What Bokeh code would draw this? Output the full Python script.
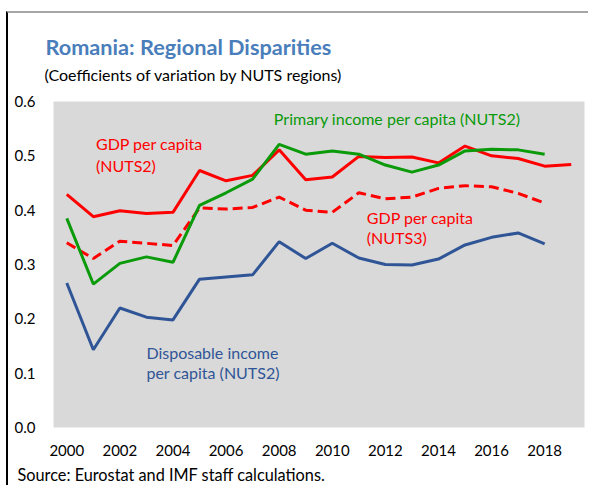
from bokeh.plotting import figure
from bokeh.models import Title, Label, FixedTicker, Range1d
from bokeh.embed import file_html
from bokeh.resources import INLINE

# ---- data ----
years = list(range(2000, 2020))
years_short = list(range(2000, 2019))
gdp_nuts2 = [0.429, 0.388, 0.399, 0.394, 0.396, 0.473, 0.454, 0.464, 0.511, 0.456,
             0.461, 0.499, 0.497, 0.498, 0.487, 0.518, 0.500, 0.495, 0.481, 0.484]
gdp_nuts3 = [0.340, 0.311, 0.343, 0.339, 0.335, 0.404, 0.402, 0.405, 0.424, 0.400,
             0.396, 0.432, 0.421, 0.424, 0.440, 0.445, 0.443, 0.431, 0.413]
primary_income = [0.385, 0.264, 0.302, 0.314, 0.304, 0.409, 0.432, 0.457, 0.521, 0.503,
                  0.509, 0.503, 0.483, 0.470, 0.483, 0.509, 0.512, 0.511, 0.503]
disposable_income = [0.266, 0.143, 0.220, 0.203, 0.198, 0.273, 0.277, 0.281, 0.342, 0.311,
                     0.339, 0.312, 0.300, 0.299, 0.310, 0.336, 0.350, 0.358, 0.338]
x_ticks = list(range(2000, 2019, 2))
y_ticks = [0.0, 0.1, 0.2, 0.3, 0.4, 0.5, 0.6]
y_tick_labels = ["0.0", "0.1", "0.2", "0.3", "0.4", "0.5", "0.6"]

RED = "#FF0000"
GREEN = "#0A9A0A"
BLUE = "#2F5597"
FONT = "Lato"

p = figure(width=582, height=474, x_range=Range1d(1999.5, 2019.5), y_range=Range1d(0, 0.6),
           output_backend="svg", toolbar_location=None,
           min_border_left=45, min_border_right=6, min_border_top=88, min_border_bottom=59,
           background_fill_color="#D9D9D9", border_fill_color="white",
           outline_line_color=None)
p.styles = {"border-left": "2px solid black", "border-top": "2px solid #A6A6A6",
            "margin-top": "11px", "margin-left": "6px"}

p.grid.visible = False
for ax in (p.xaxis, p.yaxis):
    ax.axis_line_color = None
    ax.major_tick_line_color = None
    ax.minor_tick_line_color = None
    ax.major_label_text_font = FONT
    ax.major_label_text_font_size = "15px"
    ax.major_label_text_color = "black"

p.xaxis.ticker = FixedTicker(ticks=x_ticks)
p.xaxis.major_label_standoff = 11
p.yaxis.ticker = FixedTicker(ticks=y_ticks)
p.yaxis.major_label_overrides = {t: l for t, l in zip(y_ticks, y_tick_labels)}
p.yaxis.major_label_standoff = 12

p.line(years, gdp_nuts2, line_color=RED, line_width=3)
p.line(years_short, gdp_nuts3, line_color=RED, line_width=3, line_dash="10 5")
p.line(years_short, primary_income, line_color=GREEN, line_width=3)
p.line(years_short, disposable_income, line_color=BLUE, line_width=3)

def lab(x, y, text, color, size="16px"):
    p.add_layout(Label(x=x, y=y, text=text, text_color=color, text_font=FONT,
                       text_font_size=size, text_baseline="middle", text_align="left"))

lab(2001.1, 0.523, "GDP per capita", RED)
lab(2001.1, 0.483, "(NUTS2)", RED)
lab(2007.8, 0.569, "Primary income per capita (NUTS2)", GREEN)
lab(2011.3, 0.387, "GDP per capita", RED)
lab(2011.3, 0.350, "(NUTS3)", RED)
lab(2003.0, 0.138, "Disposable income", BLUE)
lab(2003.0, 0.101, "per capita (NUTS2)", BLUE)

p.add_layout(Title(text="(Coefficients of variation by NUTS regions)", text_font=FONT,
                   text_font_size="16px", text_font_style="normal", text_color="black",
                   align="left", offset=-9, standoff=36), "above")
p.add_layout(Title(text="Romania: Regional Disparities", text_font=FONT,
                   text_font_size="21.7px", text_font_style="bold", text_color="#4A7EBB",
                   align="left", offset=-8, standoff=-30), "above")
p.add_layout(Title(text="Source: Eurostat and IMF staff calculations.", text_font=FONT,
                   text_font_size="16.3px", text_font_style="normal", text_color="black",
                   align="left", offset=-36, standoff=8), "below")

open("out.html", "w").write(file_html(p, INLINE))
